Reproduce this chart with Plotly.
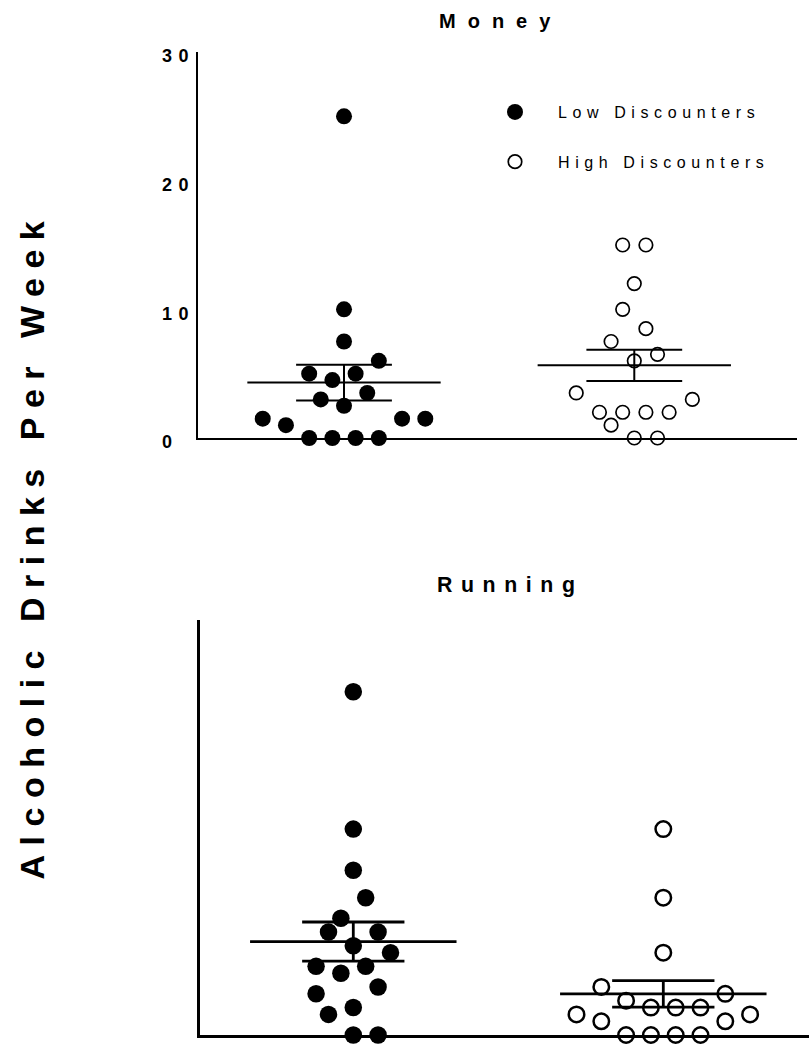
import numpy as np
import plotly.graph_objects as go

# ---------------- data ----------------
groups = ["Low Discounters", "High Discounters"]
group_pos = [1, 2]
tick_vals = [0, 10, 20, 30]
tick_text = ["0\u2007", "10", "20", "30"]
panel_titles = ["Money", "Running"]
y_title = "Alcoholic Drinks Per Week"

money_low = [25, 10, 7.5, 6, 5, 5, 4.5, 3.5, 3, 2.5, 1.5, 1, 1.5, 1.5, 0, 0, 0, 0]
money_low_slot = [0, 0, 0, 3, -3, 1, -1, 2, -2, 0, -7, -5, 5, 7, -3, -1, 1, 3]
money_high = [15, 15, 12, 10, 8.5, 7.5, 6.5, 6, 3.5, 3, 2, 2, 2, 2, 1, 0, 0]
money_high_slot = [-1, 1, 0, -1, 1, -2, 2, 0, -5, 5, -3, -1, 1, 3, -2, 0, 2]

running_low = [25, 15, 12, 10, 8.5, 7.5, 7.5, 6.5, 6, 5, 5, 4.5, 3.5, 3, 2, 1.5, 0, 0]
running_low_slot = [0, 0, 0, 1, -1, -2, 2, 0, 3, -3, 1, -1, 2, -3, 0, -2, 0, 2]
running_high = [15, 10, 6, 3.5, 3, 2.5, 2, 2, 2, 1.5, 1, 1, 1.5, 0, 0, 0, 0]
running_high_slot = [0, 0, 0, -5, 5, -3, -1, 1, 3, -7, -5, 5, 7, -3, -1, 1, 3]

# ---------------- style ----------------
W, H = 809, 1044
FONT = "Liberation Sans, Arial, sans-serif"
SLOT = 0.04          # horizontal swarm step (x units)
MEAN_HALF = 0.333    # half width of mean line
CAP_HALF = 0.165     # half width of SEM caps

fig = go.Figure()


def swarm_x(center, slots):
    return [center + s * SLOT for s in slots]


def mean_sem_trace(vals, center, xa, ya, lw):
    v = np.asarray(vals, dtype=float)
    m = v.mean()
    s = v.std(ddof=1) / np.sqrt(len(v))
    xs = [center - MEAN_HALF, center + MEAN_HALF, None,
          center - CAP_HALF, center + CAP_HALF, None,
          center - CAP_HALF, center + CAP_HALF, None,
          center, center]
    ys = [m, m, None, m + s, m + s, None, m - s, m - s, None, m - s, m + s]
    return go.Scatter(x=xs, y=ys, mode="lines", xaxis=xa, yaxis=ya,
                      line=dict(color="black", width=lw), showlegend=False,
                      hoverinfo="skip", cliponaxis=False)


panels = [
    dict(low=money_low, low_slot=money_low_slot, high=money_high, high_slot=money_high_slot,
         xa="x", ya="y", fsize=16, osize=13.5, olw=1.7, lw=2, legend=True),
    dict(low=running_low, low_slot=running_low_slot, high=running_high, high_slot=running_high_slot,
         xa="x2", ya="y2", fsize=17.5, osize=15.5, olw=2.5, lw=2.8, legend=False),
]

for p in panels:
    fig.add_trace(mean_sem_trace(p["low"], group_pos[0], p["xa"], p["ya"], p["lw"]))
    fig.add_trace(mean_sem_trace(p["high"], group_pos[1], p["xa"], p["ya"], p["lw"]))
    fig.add_trace(go.Scatter(
        x=swarm_x(group_pos[0], p["low_slot"]), y=p["low"], mode="markers",
        xaxis=p["xa"], yaxis=p["ya"], name=groups[0], legendgroup="low",
        showlegend=p["legend"], cliponaxis=False,
        marker=dict(symbol="circle", size=p["fsize"], color="black", line=dict(width=0))))
    fig.add_trace(go.Scatter(
        x=swarm_x(group_pos[1], p["high_slot"]), y=p["high"], mode="markers",
        xaxis=p["xa"], yaxis=p["ya"], name=groups[1], legendgroup="high",
        showlegend=p["legend"], cliponaxis=False,
        marker=dict(symbol="circle-open", size=p["osize"], color="black",
                    line=dict(width=p["olw"], color="black"))))

axis_common = dict(showgrid=False, zeroline=False, showline=True, linecolor="black",
                   ticks="", fixedrange=True, automargin=False)

fig.update_layout(
    width=W, height=H, margin=dict(l=0, r=0, t=0, b=0, pad=0, autoexpand=False),
    paper_bgcolor="white", plot_bgcolor="white",
    font=dict(family=FONT, color="black"),
    xaxis=dict(domain=[197.5 / W, 797 / W], range=[0.4953, 2.5605], anchor="y",
               showticklabels=False, linewidth=2, **axis_common),
    yaxis=dict(domain=[1 - 438 / H, 1 - 52 / H], range=[0, 30], anchor="x",
               tickvals=tick_vals, ticktext=tick_text, ticklabelstandoff=0,
               ticklabelshift=4,
               tickfont=dict(family=FONT, size=18, weight="bold", color="black"),
               linewidth=2, **axis_common),
    xaxis2=dict(domain=[199.5 / W, 1], range=[0.5039, 2.470], anchor="y2",
                showticklabels=False, linewidth=3, **axis_common),
    yaxis2=dict(domain=[1 - 1035 / H, 1 - 620.4 / H], range=[0, 30.2], anchor="x2",
                showticklabels=False, linewidth=3, **axis_common),
    legend=dict(x=472 / W, y=1 - 95 / H, xanchor="left", yanchor="top",
                font=dict(family=FONT, size=16, color="black"),
                itemwidth=76, tracegroupgap=26, traceorder="grouped",
                bgcolor="rgba(0,0,0,0)"),
    showlegend=True,
    annotations=[
        dict(text=panel_titles[0], xref="paper", yref="paper", x=437 / W, y=1 - 21 / H,
             xanchor="left", yanchor="middle", align="left", showarrow=False,
             font=dict(family=FONT, size=20, weight="bold", color="black")),
        dict(text=panel_titles[1], xref="paper", yref="paper", x=435 / W, y=1 - 585 / H,
             xanchor="left", yanchor="middle", align="left", showarrow=False,
             font=dict(family=FONT, size=21.3, weight="bold", color="black")),
        dict(text=y_title, xref="paper", yref="paper", x=31.5 / W, y=1 - 882 / H,
             xanchor="center", yanchor="bottom", align="left", showarrow=False,
             textangle=-90,
             font=dict(family=FONT, size=34, weight="bold", color="black")),
    ],
)

js = """
var gd = document.getElementById('{plot_id}');
function sp(sel, v){ gd.querySelectorAll(sel).forEach(function(t){ t.style.letterSpacing = v; }); }
sp('g.ytick text', '6.4px');
gd.querySelectorAll('g.ytick text').forEach(function(t){
  var x = parseFloat(t.getAttribute('x') || '0');
  t.setAttribute('x', x + 3);
});
sp('text.legendtext', '5.6px');
gd.querySelectorAll('g.legend g.scrollbox').forEach(function(g){ g.removeAttribute('clip-path'); });
gd.querySelectorAll('g.legend').forEach(function(g){ g.removeAttribute('clip-path'); });
gd.querySelectorAll('text.annotation-text').forEach(function(t){
  var s = t.textContent;
  if (s === 'Money') t.style.letterSpacing = '12px';
  else if (s === 'Running') t.style.letterSpacing = '8.6px';
  else t.style.letterSpacing = '9.5px';
});
"""

fig.write_html("out.html", post_script=js)
